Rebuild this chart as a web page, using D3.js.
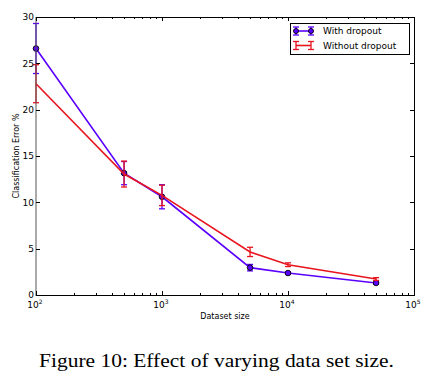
<!DOCTYPE html>
<html><head><meta charset="utf-8">
<script src="https://cdn.jsdelivr.net/npm/d3@7"></script>
<style>body{margin:0;background:#fff;}svg{display:block;}</style>
</head><body>
<svg id="c" width="433" height="380"></svg>
<script>
const datasetSizes = [100, 500, 1000, 5000, 10000, 50000];
const withDropout = [26.6, 13.15, 10.6, 2.95, 2.37, 1.3];
const withDropoutErr = [2.7, 1.25, 1.3, 0.35, 0.15, 0.12];
const withoutDropout = [22.8, 13.05, 10.75, 4.65, 3.27, 1.72];
const withoutDropoutErr = [2.05, 1.4, 1.1, 0.5, 0.2, 0.15];
const yTicks = [0, 5, 10, 15, 20, 25, 30];
const xTickExps = [2, 3, 4, 5];
const seriesNames = ["With dropout", "Without dropout"];

const svg = d3.select("#c");
const L = 36, R = 414, T = 17, B = 295;
const x = d3.scaleLog().domain([100, 100000]).range([L, R]);
const y = d3.scaleLinear().domain([0, 30]).range([B, T]);
const blue = "#5a00ff", red = "#e8141e";
const font = "DejaVu Sans, sans-serif";

const series = [
  {name: seriesNames[0], vals: withDropout, err: withDropoutErr, color: blue, marker: true},
  {name: seriesNames[1], vals: withoutDropout, err: withoutDropoutErr, color: red, marker: false}
];

const plot = svg.append("g");
const line = d3.line().x((d, i) => x(datasetSizes[i])).y(d => y(d));
series.forEach(s => {
  const g = plot.append("g");
  g.append("path").attr("d", line(s.vals)).attr("fill", "none")
    .attr("stroke", s.color).attr("stroke-width", 1.6);
  s.vals.forEach((v, i) => {
    const cx = x(datasetSizes[i]);
    const y0 = y(v - s.err[i]), y1 = y(v + s.err[i]);
    g.append("line").attr("x1", cx).attr("x2", cx).attr("y1", y0).attr("y2", y1)
      .attr("stroke", s.color).attr("stroke-width", 1.3);
    [y0, y1].forEach(yy => g.append("line").attr("x1", cx - 3).attr("x2", cx + 3)
      .attr("y1", yy).attr("y2", yy).attr("stroke", s.color).attr("stroke-width", 1.3));
    if (s.marker) g.append("circle").attr("cx", cx).attr("cy", y(v)).attr("r", 2.8)
      .attr("fill", s.color).attr("stroke", "#000").attr("stroke-width", 0.9);
  });
});

// frame
const ax = svg.append("g").attr("stroke", "#000").attr("stroke-width", 1).attr("fill", "none");
ax.append("line").attr("x1", L).attr("x2", R).attr("y1", T + 0.5).attr("y2", T + 0.5);
ax.append("line").attr("x1", L).attr("x2", R + 0.5).attr("y1", B + 0.5).attr("y2", B + 0.5);
ax.append("line").attr("x1", L).attr("x2", L).attr("y1", T).attr("y2", B + 1).attr("stroke", "#555");
ax.append("line").attr("x1", R + 0.5).attr("x2", R + 0.5).attr("y1", T).attr("y2", B + 1);

// y ticks
yTicks.forEach(t => {
  const yy = Math.round(y(t)) + 0.5;
  ax.append("line").attr("x1", L).attr("x2", L + 4).attr("y1", yy).attr("y2", yy);
  ax.append("line").attr("x1", R).attr("x2", R - 4).attr("y1", yy).attr("y2", yy);
  svg.append("text").attr("x", L - 2).attr("y", y(t) + 3.3).attr("text-anchor", "end")
    .attr("font-family", font).attr("font-size", 9).attr("fill", "#000").text(t);
});
// x ticks (major + minor)
for (let e = 2; e <= 4; e++) {
  for (let m = 2; m <= 9; m++) {
    const xx = Math.round(x(m * Math.pow(10, e))) + 0.5;
    ax.append("line").attr("x1", xx).attr("x2", xx).attr("y1", B).attr("y2", B - 2);
    ax.append("line").attr("x1", xx).attr("x2", xx).attr("y1", T).attr("y2", T + 2);
  }
}
xTickExps.forEach(e => {
  const xx = Math.round(x(Math.pow(10, e))) + 0.5;
  ax.append("line").attr("x1", xx).attr("x2", xx).attr("y1", B).attr("y2", B - 4);
  ax.append("line").attr("x1", xx).attr("x2", xx).attr("y1", T).attr("y2", T + 4);
  const t = svg.append("text").attr("x", x(Math.pow(10, e)) - 1).attr("y", B + 13)
    .attr("text-anchor", "middle").attr("font-family", font).attr("font-size", 9).attr("fill", "#000");
  t.append("tspan").text("10");
  t.append("tspan").attr("font-size", 6).attr("dy", -4).text(e);
});

// axis labels
svg.append("text").attr("x", 225).attr("y", 319).attr("text-anchor", "middle")
  .attr("font-family", font).attr("font-size", 8).text("Dataset size");
svg.append("text").attr("transform", "translate(19,156) rotate(-90)").attr("text-anchor", "middle")
  .attr("font-family", font).attr("font-size", 8).text("Classification Error %");

// legend
const lg = svg.append("g");
lg.append("rect").attr("x", 290.5).attr("y", 23.5).attr("width", 119).attr("height", 31)
  .attr("fill", "#fff").attr("stroke", "#000").attr("stroke-width", 1);
series.forEach((s, i) => {
  const cy = 31 + i * 14.5;
  const x0 = 296, x1 = 311;
  lg.append("line").attr("x1", x0).attr("x2", x1).attr("y1", cy).attr("y2", cy)
    .attr("stroke", s.color).attr("stroke-width", 1.6);
  [x0, x1].forEach(xx => {
    lg.append("line").attr("x1", xx).attr("x2", xx).attr("y1", cy - 4).attr("y2", cy + 4)
      .attr("stroke", s.color).attr("stroke-width", 1.3);
    lg.append("line").attr("x1", xx - 3).attr("x2", xx + 3).attr("y1", cy - 4).attr("y2", cy - 4)
      .attr("stroke", s.color).attr("stroke-width", 1.3);
    lg.append("line").attr("x1", xx - 3).attr("x2", xx + 3).attr("y1", cy + 4).attr("y2", cy + 4)
      .attr("stroke", s.color).attr("stroke-width", 1.3);
    if (s.marker) lg.append("circle").attr("cx", xx).attr("cy", cy).attr("r", 2.5)
      .attr("fill", s.color).attr("stroke", "#000").attr("stroke-width", 0.9);
  });
  lg.append("text").attr("x", 323).attr("y", cy + 3.3).attr("font-family", font)
    .attr("font-size", 9).attr("fill", "#000").text(s.name);
});

// caption
svg.append("text").attr("x", 39).attr("y", 367)
  .attr("textLength", 355).attr("lengthAdjust", "spacingAndGlyphs")
  .attr("font-family", "Liberation Serif, serif").attr("font-size", 19).attr("fill", "#000")
  .text("Figure 10: Effect of varying data set size.");
</script>
</body></html>
